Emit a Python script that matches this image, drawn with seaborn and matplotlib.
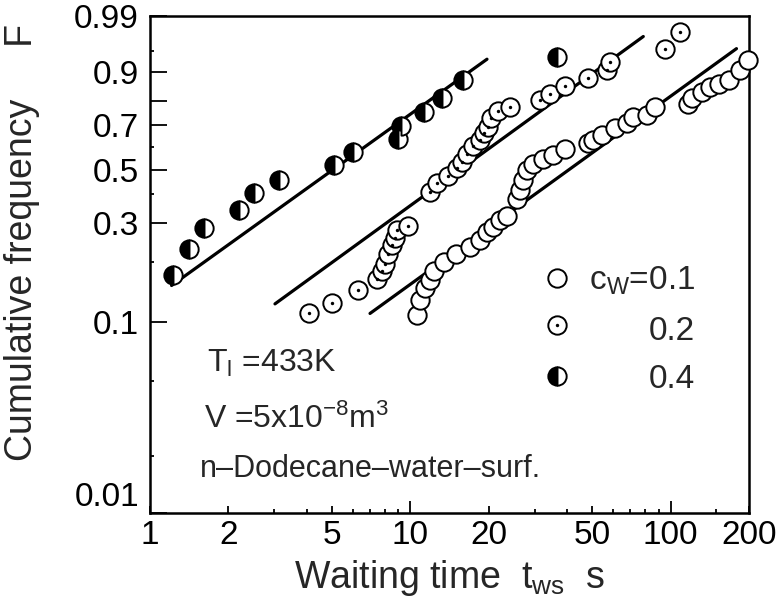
import numpy as np
import matplotlib
matplotlib.use('Agg')
import matplotlib.pyplot as plt
import seaborn as sns
from matplotlib.ticker import FixedLocator, FixedFormatter, NullFormatter

# waiting time t_ws [s] and cumulative frequency F
t_01 = [10.6, 10.9, 11.4, 11.9, 12.3, 13.5, 15.0, 17.0, 18.5, 19.7, 20.8, 22.1, 23.5,
        25.6, 26.4, 27.2, 28.0, 29.7, 32.4, 35.4, 39.3, 48.3, 50.5, 54.4, 61.1, 67.8,
        71.9, 80.9, 87.1, 117, 121, 132, 142, 153, 167, 185, 199]
F_01 = [0.109, 0.129, 0.148, 0.162, 0.181, 0.198, 0.218, 0.234, 0.252, 0.275, 0.289,
        0.310, 0.323, 0.384, 0.416, 0.456, 0.497, 0.526, 0.548, 0.563, 0.593, 0.616,
        0.631, 0.653, 0.684, 0.706, 0.735, 0.742, 0.778, 0.791, 0.811, 0.836, 0.854,
        0.865, 0.876, 0.906, 0.931]

t_02 = [4.08, 5.00, 6.32, 7.43, 7.77, 7.99, 8.21, 8.48, 8.73, 8.89, 9.82, 11.9, 12.7,
        13.9, 15.1, 15.8, 16.5, 17.4, 18.5, 19.2, 19.8, 20.5, 21.8, 24.2, 31.5, 34.4,
        39.3, 48.3, 56.8, 58.5, 95.2, 109]
F_02 = [0.112, 0.125, 0.145, 0.165, 0.180, 0.195, 0.218, 0.239, 0.259, 0.280, 0.292,
        0.409, 0.443, 0.471, 0.505, 0.532, 0.568, 0.604, 0.631, 0.665, 0.692, 0.732,
        0.758, 0.778, 0.805, 0.827, 0.856, 0.882, 0.906, 0.927, 0.953, 0.977]

t_04 = [1.22, 1.41, 1.61, 2.20, 2.51, 3.14, 5.11, 6.01, 8.95, 9.21, 11.3, 13.2, 16.0, 36.5]
F_04 = [0.172, 0.230, 0.286, 0.345, 0.405, 0.458, 0.519, 0.578, 0.638, 0.695, 0.757,
        0.813, 0.876, 0.938]

# fitted lines (end points)
line_t_01 = [7.0, 179.0]
line_F_01 = [0.111, 0.954]
line_t_02 = [3.02, 78.5]
line_F_02 = [0.124, 0.972]
line_t_04 = [1.21, 19.7]
line_F_04 = [0.153, 0.933]

x_ticks = [1, 2, 5, 10, 20, 50, 100, 200]
x_tick_labels = ['1', '2', '5', '10', '20', '50', '100', '200']
y_ticks = [0.01, 0.1, 0.3, 0.5, 0.7, 0.8, 0.9, 0.99]
y_tick_labels = ['0.01', '0.1', '0.3', '0.5', '0.7', '', '0.9', '0.99']


def weibull(F):
    F = np.clip(np.asarray(F, dtype=float), 1e-6, 1 - 1e-9)
    return np.log(-np.log(1.0 - F))


def weibull_inv(u):
    return 1.0 - np.exp(-np.exp(u))


sns.set_style('ticks')
plt.rcParams['font.family'] = ['Liberation Sans', 'DejaVu Sans']
plt.rcParams['mathtext.fontset'] = 'custom'
plt.rcParams['mathtext.rm'] = 'Liberation Sans'
plt.rcParams['mathtext.it'] = 'Liberation Sans:italic'
plt.rcParams['mathtext.default'] = 'regular'

fig = plt.figure(figsize=(7.83, 6.10), dpi=100)
ax = fig.add_axes([0.1916, 0.159, 0.765, 0.8148])
ax.set_xscale('log')
ax.set_yscale('function', functions=(weibull, weibull_inv))

# fit lines
for lt, lf in [(line_t_01, line_F_01), (line_t_02, line_F_02), (line_t_04, line_F_04)]:
    sns.lineplot(x=lt, y=lf, ax=ax, color='black', lw=2.3, estimator=None,
                 sort=False, legend=False, zorder=2)

msize = 175
circ = dict(s=msize, color='white', edgecolor='black', linewidth=1.4, zorder=3,
            clip_on=False, legend=False)
sns.scatterplot(x=t_01, y=F_01, ax=ax, **circ)
sns.scatterplot(x=t_02, y=F_02, ax=ax, **circ)
sns.scatterplot(x=t_02, y=F_02, ax=ax, s=6, color='black', linewidth=0, zorder=4,
                clip_on=False, legend=False)
ax.plot(t_04, F_04, ls='none', marker='o', ms=13.2, fillstyle='left', mfc='black',
        mfcalt='white', mec='black', mew=1.4, zorder=3, clip_on=False)

ax.set_xlim(1, 200)
ax.set_ylim(0.01, 0.99)

ax.xaxis.set_major_locator(FixedLocator(x_ticks))
ax.xaxis.set_major_formatter(FixedFormatter(x_tick_labels))
ax.xaxis.set_minor_locator(FixedLocator([3, 4, 6, 7, 8, 9, 30, 40, 60, 70, 80, 90, 150]))
ax.xaxis.set_minor_formatter(NullFormatter())
ax.yaxis.set_major_locator(FixedLocator(y_ticks))
ax.yaxis.set_major_formatter(FixedFormatter(y_tick_labels))
ax.yaxis.set_minor_locator(FixedLocator([0.02, 0.05, 0.2, 0.4, 0.6, 0.95]))
ax.yaxis.set_minor_formatter(NullFormatter())

ax.tick_params(which='both', direction='in', width=1.3, top=False, right=False,
               colors='black')
ax.tick_params(axis='y', which='major', length=12, pad=8, labelsize=24)
ax.tick_params(axis='x', which='major', length=5, pad=5, labelsize=24)
ax.tick_params(which='minor', length=3)
for tk, v in zip(ax.xaxis.get_major_ticks(), x_ticks):
    if v in (10, 100):
        tk.tick1line.set_markersize(9)
ax.yaxis.get_major_ticks()[0].label1.set_verticalalignment('bottom')

for sp in ax.spines.values():
    sp.set_linewidth(1.8)
    sp.set_color('black')

ax.set_xlabel('Waiting time  t$_{\\rm ws}$  s', fontsize=27)
ax.xaxis.set_label_coords(0.5, -0.09)
ax.set_ylabel('Cumulative frequency     F', fontsize=27)
ax.yaxis.set_label_coords(-0.184, 0.545)

# legend drawn by hand
leg_y = [0.473, 0.378, 0.2757]
ax.scatter([0.6795], [leg_y[0]], transform=ax.transAxes, s=msize, color='white',
           edgecolor='black', linewidth=1.4, zorder=5)
ax.scatter([0.6795], [leg_y[1]], transform=ax.transAxes, s=msize, color='white',
           edgecolor='black', linewidth=1.4, zorder=5)
ax.scatter([0.6795], [leg_y[1]], transform=ax.transAxes, s=6, color='black',
           linewidth=0, zorder=6)
ax.plot([0.6795], [leg_y[2]], transform=ax.transAxes, ls='none', marker='o', ms=13.2,
        fillstyle='left', mfc='black', mfcalt='white', mec='black', mew=1.4, zorder=5)
for lab, yb in zip(['c$_{\\rm W}$=0.1', '0.2', '0.4'], [0.4487, 0.348, 0.2515]):
    ax.text(0.91, yb, lab, transform=ax.transAxes, ha='right', va='baseline', fontsize=24)

ax.text(0.095, 0.2837, 'T$_{\\rm l}$ =433K', transform=ax.transAxes, va='baseline', fontsize=23)
ax.text(0.09, 0.171, 'V =5x10$^{-8}$m$^3$', transform=ax.transAxes, va='baseline', fontsize=23)
ax.text(0.083, 0.0724, 'n\u2013Dodecane\u2013water\u2013surf.', transform=ax.transAxes,
        va='baseline', fontsize=22)

fig.savefig('out.png', dpi=100)
